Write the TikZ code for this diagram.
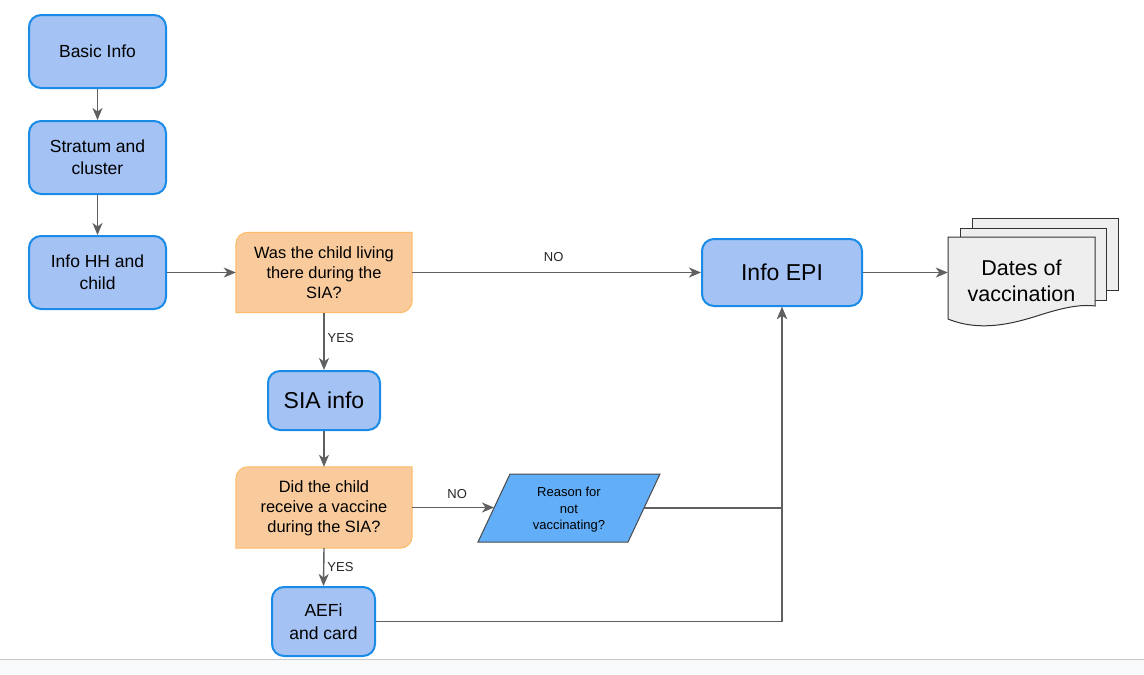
\documentclass[tikz,border=0pt]{standalone}
\usepackage{fontspec}
\setmainfont{Liberation Sans}
\usetikzlibrary{arrows.meta,calc}
\definecolor{boxfill}{HTML}{A4C2F4}
\definecolor{boxline}{HTML}{1A8CE8}
\definecolor{decfill}{HTML}{F9CB9C}
\definecolor{decline}{HTML}{FBBC66}
\definecolor{parfill}{HTML}{62AEF8}
\definecolor{parline}{HTML}{4A4A4A}
\definecolor{arrcol}{HTML}{606060}
\definecolor{docfill}{HTML}{EEEEEE}
\definecolor{docline}{HTML}{333333}
\definecolor{stripfill}{HTML}{F8F9FA}
\definecolor{stripline}{HTML}{C8C8C8}
\newcommand\decshape[1]{%
  \path[draw=decline,fill=decfill,line width=1pt]
    ($(#1.north west)+(12,0)$) -- (#1.north east) -- ($(#1.south east)+(0,-12)$)
    .. controls ($(#1.south east)+(0,-5.4)$) and ($(#1.south east)+(-5.4,0)$) .. ($(#1.south east)+(-12,0)$)
    -- (#1.south west) -- ($(#1.north west)+(0,12)$)
    .. controls ($(#1.north west)+(0,5.4)$) and ($(#1.north west)+(5.4,0)$) .. ($(#1.north west)+(12,0)$) -- cycle;}
\begin{document}
\begin{tikzpicture}[x=1pt,y=-1pt,
  bluebox/.style={draw=boxline,fill=boxfill,line width=2pt,rounded corners=12pt,align=center,inner sep=0pt,text=black},
  decbox/.style={align=center,inner sep=0pt,minimum width=176pt,minimum height=80pt,font=\fontsize{16.4}{20}\selectfont},
  arr/.style={draw=arrcol,line width=1.4pt,-{Stealth[length=12pt,width=10pt,inset=3.5pt]}},
  lbl/.style={font=\fontsize{13}{15}\selectfont,text=black!85,inner sep=0pt},
  f16/.style={font=\fontsize{17.5}{22}\selectfont},
  f21/.style={font=\fontsize{23}{27}\selectfont}]
\useasboundingbox (0,0) rectangle (1144,675);
\fill[white] (0,0) rectangle (1144,675);
\fill[stripfill] (0,659) rectangle (1144,675);
\draw[stripline,line width=1pt] (0,659) -- (1144,659);

% blue boxes
\node[bluebox,f16,minimum width=137pt,minimum height=73pt] (basic) at (97.5,51.5) {Basic Info};
\node[bluebox,f16,minimum width=137pt,minimum height=73pt] (strat) at (97.5,157.5) {Stratum and\\cluster};
\node[bluebox,f16,minimum width=137pt,minimum height=73pt] (hh) at (97.5,272.5) {Info HH and\\child};
\node[bluebox,f21,minimum width=160pt,minimum height=67pt] (epi) at (782,272.5) {Info EPI};
\node[bluebox,f21,minimum width=112pt,minimum height=59pt] (sia) at (324,400.5) {SIA info};
\node[bluebox,font=\fontsize{17.5}{23}\selectfont,minimum width=103pt,minimum height=69pt] (aefi) at (323.5,621.5) {AEFi\\and card};

% decisions
\node[decbox] (d1) at (324,272.5) {};
\decshape{d1}
\node[decbox] at ($(d1)+(0,0.5)$) {Was the child living\\there during the\\SIA?};
\node[decbox,minimum height=81pt] (d2) at (324,507.5) {};
\decshape{d2}
\node[decbox] at ($(d2)+(0,0.5)$) {Did the child\\receive a vaccine\\during the SIA?};

% parallelogram
\draw[draw=parline,fill=parfill,line width=1pt] (510,474) -- (660,474) -- (628,542) -- (478,542) -- cycle;
\node[align=center,inner sep=0pt,minimum width=150pt,minimum height=68pt] (reason) at (569,508) {};
\node[align=center,inner sep=0pt,font=\fontsize{13}{16.5}\selectfont] at ($(reason)+(0,2)$) {Reason for\\not\\vaccinating?};
\coordinate (rin) at (494,507.5);

% document stack
\draw[docline,fill=docfill,line width=1pt] (972,218) rectangle (1118,290);
\draw[docline,fill=docfill,line width=1pt] (960,228) rectangle (1106,300);
\draw[docline,fill=docfill,line width=1pt] (948,237) -- (1095,237) -- (1095,306)
  .. controls (1080,304) and (1062,308) .. (1040,315)
  .. controls (1012,324) and (980,332) .. (948,319) -- cycle;
\node[align=center,inner sep=0pt,font=\fontsize{21.5}{26}\selectfont,minimum width=147pt,minimum height=70pt] (dates) at (1021.5,281) {Dates of\\vaccination};

% connectors
\draw[arr] (basic) -- (strat);
\draw[arr] (strat) -- (hh);
\draw[arr] (hh) -- (d1.west);
\draw[arr] (d1.east) -- node[lbl,pos=0.49,yshift=15pt] {NO} (epi.west);
\draw[arr] (d1.south) -- node[lbl,anchor=west,xshift=3pt,pos=0.45] {YES} (sia.north);
\draw[arr] (sia.south) -- (d2.north);
\draw[arr] (d2.east) -- node[lbl,pos=0.55,yshift=13pt] {NO} (rin);
\draw[arr] (d2.south) -- node[lbl,anchor=west,xshift=3pt,pos=0.5] {YES} (aefi.north);
\draw[arr] (reason.east) -| (epi.south);
\draw[arr] (aefi.east) -| (epi.south);
\draw[arr] (epi.east) -- (dates.west |- epi.east);
\end{tikzpicture}
\end{document}
